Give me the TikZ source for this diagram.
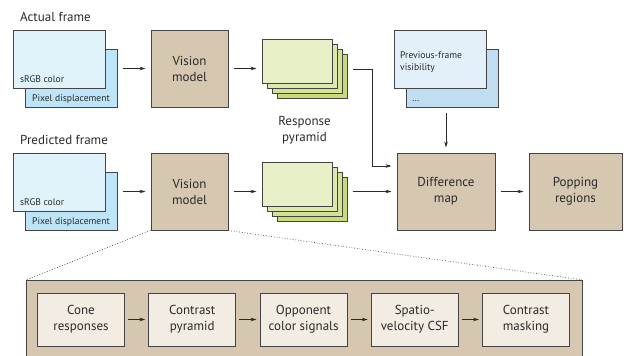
\documentclass[tikz,border=0pt]{standalone}
\usepackage{fontspec}
\setmainfont{PT Sans}
\usetikzlibrary{arrows.meta,positioning}
\definecolor{edge}{HTML}{444444}
\definecolor{txt}{HTML}{2A2A2A}
\definecolor{framefront}{HTML}{E1F3FA}
\definecolor{frameback}{HTML}{BDE5F7}
\definecolor{prevfront}{HTML}{E3EFF9}
\definecolor{prevback}{HTML}{C0DDF2}
\definecolor{tan}{HTML}{D6C7B1}
\definecolor{stage}{HTML}{F2ECE3}
\definecolor{greenA}{HTML}{E8F0C8}
\definecolor{greenB}{HTML}{DCE8AE}
\definecolor{greenC}{HTML}{D2E396}
\definecolor{greenD}{HTML}{C5DC78}
\begin{document}
\begin{tikzpicture}[x=1pt,y=-1pt,node distance=111.25pt,inner sep=0pt,text=txt,
  big/.style={font=\fontsize{13}{16}\selectfont},
  small/.style={font=\fontsize{9.6}{12}\selectfont,align=left},
  frame/.style={draw=edge,line width=1pt,minimum width=92pt,minimum height=58pt},
  model/.style={draw=edge,line width=1pt,fill=tan,minimum width=77pt,minimum height=77pt,align=center,big},
  layer/.style={draw=edge,line width=1pt,minimum width=70pt,minimum height=44pt},
  stagebox/.style={draw=edge,line width=1pt,fill=stage,minimum width=87pt,minimum height=53pt,align=center,big},
  arr/.style={-{Stealth[length=6pt,width=3.6pt]},draw=txt,line width=0.8pt,shorten >=5pt,shorten <=5pt},
  zoomline/.style={draw=edge,line width=0.7pt,dotted}]
\useasboundingbox (0,0) rectangle (624,356);
\clip (0,0) rectangle (624,356);

% actual frame
\node[big,anchor=base west] (at) at (20,21) {Actual frame};
\node[frame,fill=frameback] (afb) at (71,78) {};
\node[frame,fill=framefront] (af) at (59,59) {};
\node[small,anchor=base west] (afc) at (20,82) {sRGB color};
\node[small,anchor=base west] (afd) at (32,101) {Pixel displacement};
\node[model] (v1) at (189.5,68.5) {Vision\\model};
\node[layer,fill=greenD] (g1d) at (312,76) {};
\node[layer,fill=greenC] (g1c) at (307,71) {};
\node[layer,fill=greenB] (g1b) at (302,66) {};
\node[layer,fill=greenA] (g1) at (297,61) {};

% predicted frame
\node[big,anchor=base west] (pt) at (20,144) {Predicted frame};
\node[frame,fill=frameback] (pfb) at (71,201) {};
\node[frame,fill=framefront] (pf) at (59,182) {};
\node[small,anchor=base west] (pfc) at (20,205) {sRGB color};
\node[small,anchor=base west] (pfd) at (32,224) {Pixel displacement};
\node[model] (v2) at (189.5,191.5) {Vision\\model};
\node[layer,fill=greenD] (g2d) at (312,199) {};
\node[layer,fill=greenC] (g2c) at (307,194) {};
\node[layer,fill=greenB] (g2b) at (302,189) {};
\node[layer,fill=greenA] (g2) at (297,184) {};
\node[big,align=center] (rp) at (304.5,130) {Response\\pyramid};

% previous frame visibility
\node[frame,fill=prevback] (prb) at (452.5,78) {};
\node[frame,fill=prevfront] (pr) at (440,59) {};
\node[small,anchor=base west] (prt) at (400,70) {Previous-frame\\visibility};
\node[small,anchor=base west] (prd) at (412,101) {\dots};

\node[model,minimum width=98pt] (diff) at (446,191.5) {Difference\\map};
\node[model,minimum width=93pt] (pop) at (575.5,191.5) {Popping\\regions};

% vision model stages
\node[draw=edge,line width=1pt,fill=tan,minimum width=556pt,minimum height=100pt,anchor=north west] (vm) at (26,280) {};
\node[stagebox] (s1) at (81,319.5) {Cone\\responses};
\node[stagebox] (s2) [right of = s1] {Contrast\\pyramid};
\node[stagebox] (s3) [right of = s2] {Opponent\\color signals};
\node[stagebox] (s4) [right of = s3] {Spatio-\\velocity CSF};
\node[stagebox] (s5) [right of = s4] {Contrast\\masking};

\coordinate (bend1) at (372,69);
\coordinate (bend2) at (372,166);

\draw[arr] (afb.east |- v1.west) -- (v1.west);
\draw[arr] (v1.east) -- (g1.west |- v1.east);
\draw[arr] (pfb.east |- v2.west) -- (v2.west);
\draw[arr] (v2.east) -- (g2.west |- v2.east);
\draw[arr] (g1d.east |- bend1) -- (bend1) -- (bend2) -- (diff.west |- bend2);
\draw[arr] (g2d.east |- diff.west) -- (diff.west);
\draw[arr] (prb.south -| diff.north) -- (diff.north);
\draw[arr] (diff.east) -- (pop.west);
\draw[arr,shorten >=3pt,shorten <=3pt] (s1) -- (s2);
\draw[arr,shorten >=3pt,shorten <=3pt] (s2) -- (s3);
\draw[arr,shorten >=3pt,shorten <=3pt] (s3) -- (s4);
\draw[arr,shorten >=3pt,shorten <=3pt] (s4) -- (s5);

\draw[zoomline] (v2.south west) -- (vm.north west);
\draw[zoomline] (v2.south east) -- (vm.north east);
\end{tikzpicture}
\end{document}
